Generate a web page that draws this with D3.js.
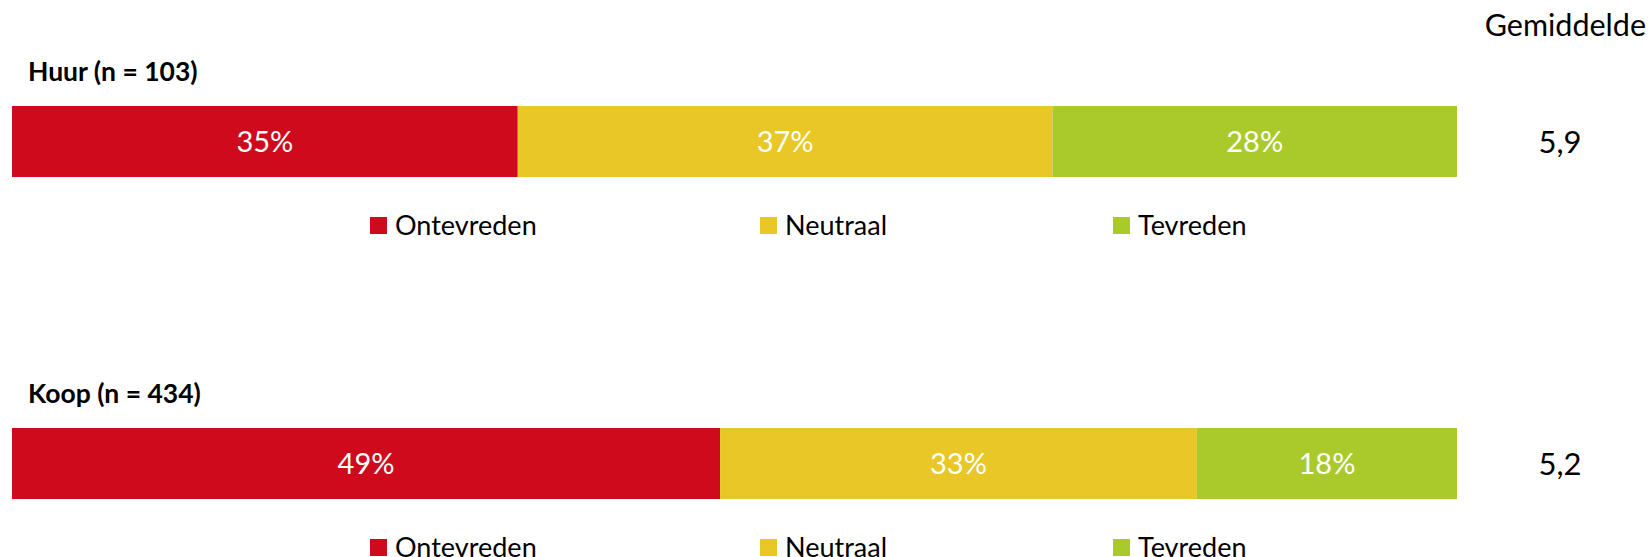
<!DOCTYPE html>
<html><head><meta charset="utf-8">
<script src="https://cdn.jsdelivr.net/npm/d3@7"></script>
<style>body{margin:0;background:#fff}svg{display:block}text{font-family:Lato,"Open Sans",sans-serif}</style>
</head><body><svg id="c" width="1650" height="557"></svg>
<script>
const groups = ["Huur (n = 103)", "Koop (n = 434)"];
const categories = ["Ontevreden", "Neutraal", "Tevreden"];
const ontevreden = [35, 49];
const neutraal = [37, 33];
const tevreden = [28, 18];
const gemiddelde = ["5,9", "5,2"];
const colors = ["#CE0A1C", "#E8C726", "#AACA2B"];

const svg = d3.select("#c");
const x = d3.scaleLinear().domain([0, 100]).range([12, 1457]);
const panelTop = d3.scaleOrdinal().domain(groups).range([0, 322]);
const barH = 71, barY = 106;
const color = d3.scaleOrdinal().domain(categories).range(colors);

svg.append("text").attr("x", 1646).attr("y", 36).attr("text-anchor", "end")
  .attr("font-size", 30.5).attr("fill", "#000").text("Gemiddelde");

groups.forEach((g, i) => {
  const vals = [ontevreden[i], neutraal[i], tevreden[i]];
  const stack = [];
  let acc = 0;
  vals.forEach((v, j) => { stack.push({cat: categories[j], v, x0: acc, x1: acc + v}); acc += v; });
  const gp = svg.append("g").attr("transform", `translate(0,${panelTop(g)})`);
  gp.append("text").attr("x", 28).attr("y", 81).attr("font-size", 26.5).attr("font-weight", "bold").text(g);
  gp.selectAll("rect.bar").data(stack).join("rect")
    .attr("x", d => x(d.x0)).attr("y", barY)
    .attr("width", d => x(d.x1) - x(d.x0)).attr("height", barH)
    .attr("fill", d => color(d.cat));
  gp.selectAll("text.lbl").data(stack).join("text")
    .attr("x", d => (x(d.x0) + x(d.x1)) / 2).attr("y", barY + barH / 2 + 10)
    .attr("text-anchor", "middle").attr("font-size", 29).attr("fill", "#fff")
    .text(d => d.v + "%");
  gp.append("text").attr("x", 1560).attr("y", barY + barH / 2 + 11).attr("text-anchor", "middle")
    .attr("font-size", 31).text(gemiddelde[i]);
  const legX = d3.scaleOrdinal().domain(categories).range([370, 760, 1113]);
  const lg = gp.selectAll("g.leg").data(categories).join("g")
    .attr("transform", d => `translate(${legX(d)},${225})`);
  lg.append("rect").attr("x", 0).attr("y", -8).attr("width", 17).attr("height", 17).attr("fill", d => color(d));
  lg.append("text").attr("x", 25).attr("y", 10).attr("font-size", 27).text(d => d);
});
</script></body></html>
